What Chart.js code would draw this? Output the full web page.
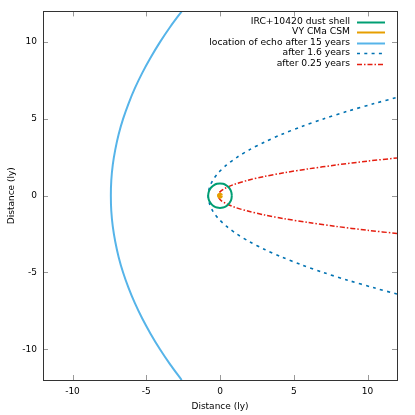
<!DOCTYPE html>
<html>
<head>
<meta charset="utf-8">
<script src="https://cdn.jsdelivr.net/npm/chart.js@4"></script>
<style>
  html, body { margin: 0; padding: 0; background: #fff; }
  #wrap { width: 415px; height: 415px; }
</style>
</head>
<body>
<div id="wrap"><canvas id="myChart" width="415" height="415"></canvas></div>
<script>
// axis ticks
let xTicks = [-10, -5, 0, 5, 10];
let yTicks = [-10, -5, 0, 5, 10];

let labels = ['IRC+10420 dust shell', 'VY CMa CSM', 'location of echo after 15 years', 'after 1.6 years', 'after 0.25 years'];

// IRC+10420 dust shell (ring, ~0.8 ly)
let shellX = [0.8, 0.773, 0.693, 0.566, 0.4, 0.207, 0, -0.207, -0.4, -0.566, -0.693, -0.773, -0.8, -0.773, -0.693, -0.566, -0.4, -0.207, 0, 0.207, 0.4, 0.566, 0.693, 0.773, 0.8];
let shellY = [0, 0.207, 0.4, 0.566, 0.693, 0.773, 0.8, 0.773, 0.693, 0.566, 0.4, 0.207, 0, -0.207, -0.4, -0.566, -0.693, -0.773, -0.8, -0.773, -0.693, -0.566, -0.4, -0.207, 0];

// VY CMa CSM (tiny ring)
let csmX = [0.1, 0.07, 0, -0.07, -0.1, -0.07, 0, 0.07, 0.1];
let csmY = [0, 0.07, 0.1, 0.07, 0, -0.07, -0.1, -0.07, 0];

// echo after 15 years
let echo15X = [-2.6, -3.37, -4.07, -4.7, -5.27, -5.77, -6.2, -6.57, -6.87, -7.1, -7.27, -7.37, -7.4, -7.37, -7.27, -7.1, -6.87, -6.57, -6.2, -5.77, -5.27, -4.7, -4.07, -3.37, -2.6];
let echo15Y = [-12, -11, -10, -9, -8, -7, -6, -5, -4, -3, -2, -1, 0, 1, 2, 3, 4, 5, 6, 7, 8, 9, 10, 11, 12];

// echo after 1.6 years
let echo16X = [12.0, 10.45, 8.65, 7.01, 5.53, 4.2, 3.03, 2.01, 1.15, 0.45, -0.1, -0.49, -0.72, -0.8, -0.72, -0.49, -0.1, 0.45, 1.15, 2.01, 3.03, 4.2, 5.53, 7.01, 8.65, 10.45, 12.0];
let echo16Y = [-6.4, -6, -5.5, -5, -4.5, -4, -3.5, -3, -2.5, -2, -1.5, -1, -0.5, 0, 0.5, 1, 1.5, 2, 2.5, 3, 3.5, 4, 4.5, 5, 5.5, 6, 6.4];

// echo after 0.25 years
let echo025X = [12.0, 10.0, 7.88, 6.0, 4.38, 3.0, 1.88, 1.0, 0.38, 0, -0.125, 0, 0.38, 1.0, 1.88, 3.0, 4.38, 6.0, 7.88, 10.0, 12.0];
let echo025Y = [-2.46, -2.25, -2, -1.75, -1.5, -1.25, -1, -0.75, -0.5, -0.25, 0, 0.25, 0.5, 0.75, 1, 1.25, 1.5, 1.75, 2, 2.25, 2.46];

function pts(xs, ys) {
    return xs.map((x, i) => ({ x: x, y: ys[i] }));
}

let font = { family: 'DejaVu Sans', size: 9 };

let colors = ['#009e73', '#e69f00', '#56b4e9', '#0072b2', '#e51e10'];
let widths = [2, 3, 2, 1.6, 1.5];
let dashes = [[], [], [], [3, 4.3], [5, 2, 1.5, 2]];

// gnuplot-like frame, inward ticks and legend
let framePlugin = {
    id: 'frame',
    afterDraw(chart) {
        let ctx = chart.ctx;
        let a = chart.chartArea;
        let xs = chart.scales.x;
        let ys = chart.scales.y;
        ctx.save();
        ctx.strokeStyle = '#999';
        ctx.lineWidth = 1;
        ctx.beginPath();
        xTicks.forEach(v => {
            let px = Math.round(xs.getPixelForValue(v)) + 0.5;
            ctx.moveTo(px, a.bottom); ctx.lineTo(px, a.bottom - 5);
            ctx.moveTo(px, a.top); ctx.lineTo(px, a.top + 5);
        });
        yTicks.forEach(v => {
            let py = Math.round(ys.getPixelForValue(v)) + 0.5;
            ctx.moveTo(a.left, py); ctx.lineTo(a.left + 5, py);
            ctx.moveTo(a.right, py); ctx.lineTo(a.right - 5, py);
        });
        ctx.stroke();
        ctx.strokeStyle = '#333';
        ctx.strokeRect(Math.round(a.left) + 0.5, Math.round(a.top) + 0.5, Math.round(a.right - a.left), Math.round(a.bottom - a.top));

        // legend
        ctx.font = '9.2px "DejaVu Sans"';
        ctx.textAlign = 'right';
        ctx.textBaseline = 'middle';
        labels.forEach((t, i) => {
            let y = 21.5 + i * 10.5;
            ctx.fillStyle = '#000';
            ctx.fillText(t, 350, y);
            ctx.strokeStyle = colors[i];
            ctx.lineWidth = Math.min(widths[i], 2);
            ctx.setLineDash(dashes[i]);
            ctx.beginPath();
            ctx.moveTo(357, Math.round(y) + 0.5);
            ctx.lineTo(385, Math.round(y) + 0.5);
            ctx.stroke();
            ctx.setLineDash([]);
        });
        ctx.restore();
    }
};

let series = [pts(shellX, shellY), pts(csmX, csmY), pts(echo15X, echo15Y), pts(echo16X, echo16Y), pts(echo025X, echo025Y)];

let ctx = document.getElementById('myChart').getContext('2d');

let myChart = new Chart(ctx, {
    type: 'scatter',
    data: {
        datasets: series.map((d, i) => ({
            label: labels[i],
            data: d,
            showLine: true,
            borderColor: colors[i],
            backgroundColor: colors[i],
            borderWidth: widths[i],
            borderDash: dashes[i],
            pointRadius: 0,
            tension: 0.3
        }))
    },
    options: {
        responsive: false,
        animation: false,
        layout: { padding: { left: 0, right: 18, top: 11, bottom: 0 } },
        plugins: {
            legend: { display: false },
            tooltip: { enabled: false }
        },
        scales: {
            x: {
                type: 'linear',
                min: -12,
                max: 12,
                afterBuildTicks: s => { s.ticks = xTicks.map(v => ({ value: v })); },
                afterFit: s => { s.height = 35; },
                grid: { display: false, drawTicks: false },
                border: { display: false },
                ticks: { font: font, color: '#000', padding: 6, maxRotation: 0 },
                title: { display: true, text: 'Distance (ly)', font: font, color: '#000', padding: { top: 0, bottom: 3 } }
            },
            y: {
                type: 'linear',
                min: -12,
                max: 12,
                afterBuildTicks: s => { s.ticks = yTicks.map(v => ({ value: v })); },
                afterFit: s => { s.width = 43; },
                grid: { display: false, drawTicks: false },
                border: { display: false },
                ticks: { font: font, color: '#000', padding: 6 },
                title: { display: true, text: 'Distance (ly)', font: font, color: '#000', padding: { top: 6, bottom: 0 } }
            }
        }
    },
    plugins: [framePlugin]
});
</script>
</body>
</html>
